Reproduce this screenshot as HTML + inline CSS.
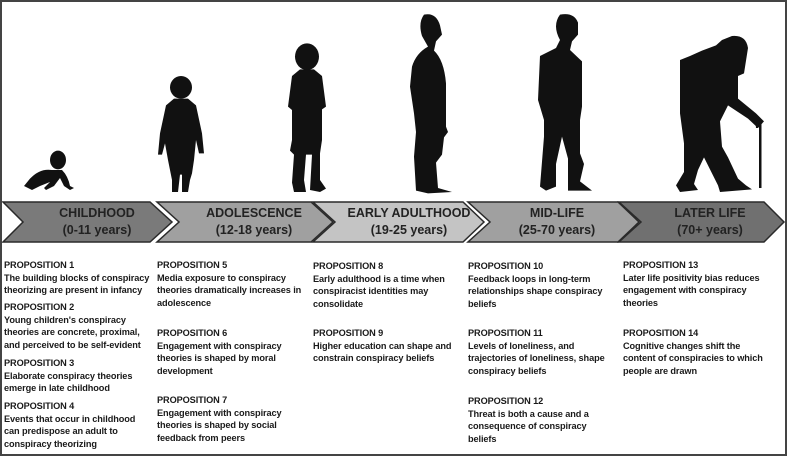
<!DOCTYPE html>
<html><head><meta charset="utf-8">
<style>
html,body{margin:0;padding:0;background:#fff;}
#w{position:relative;width:787px;height:456px;overflow:hidden;background:#fff;font-family:"Liberation Sans",sans-serif;}
#bd{position:absolute;left:0;top:0;width:783px;height:452px;border:2px solid #444;}
.t{position:absolute;font-size:9.2px;font-weight:bold;color:#1a1a1a;line-height:12.6px;white-space:nowrap;letter-spacing:-0.1px}
.h{position:absolute;font-size:12.5px;font-weight:bold;color:#222;text-align:center;width:150px;line-height:17px}
</style></head><body><div id="w">
<svg width="787" height="456" style="position:absolute;left:0;top:0">
<g fill="#111" transform="scale(1,0.6667)">
<!-- baby -->
<ellipse cx="58" cy="240" rx="8" ry="14"/>
<path d="M30 268 Q40 252 52 255 L62 255 Q68 264 70 279 L74 282 L70 285 L64 279 L60 267 L54 279 L46 285 L44 282 L50 273 L40 279 L32 285 L24 279 Z"/>
<!-- toddler -->
<ellipse cx="181" cy="131" rx="11" ry="17"/>
<path d="M174 148 L188 148 L196 158 L202 200 L204 230 L199 230 L196 210 L194 240 L192 260 L190 270 L188 288 L182 288 L182 262 L180 262 L178 288 L172 288 L172 270 L170 255 L168 240 L165 215 L162 232 L158 232 L160 200 L166 158 Z"/>
<!-- kid -->
<ellipse cx="307" cy="85" rx="12" ry="20"/>
<path d="M300 104 L314 104 L322 114 L326 160 L322 164 L322 210 L320 230 L320 270 L326 283 L320 288 L310 285 L312 232 L306 232 L304 270 L306 288 L294 288 L292 274 L294 232 L290 226 L292 210 L292 165 L288 160 L292 114 Z"/>
<!-- adult 1 -->
<path d="M424 22 Q436 18 440 38 L442 52 L436 62 L434 76 Q444 90 446 125 L446 190 L448 198 L444 206 L442 232 L436 244 L438 282 L452 288 L428 290 L416 286 L414 235 L416 198 L414 170 L410 130 L412 100 Q416 80 428 70 L422 54 Q418 34 424 22 Z"/>
<!-- adult 2 -->
<path d="M560 22 Q574 18 578 34 L578 52 L572 62 L570 75 L582 92 L582 160 L580 180 L580 230 L584 246 L580 272 L592 286 L568 286 L568 238 L562 205 L556 246 L556 280 L546 286 L540 280 L544 205 L544 180 L538 150 L540 84 Q548 78 556 72 L560 60 Q552 38 560 22 Z"/>
<!-- old -->
<path d="M732 54 Q746 52 748 72 L744 110 L738 114 L738 148 L756 170 L764 182 L758 192 L748 178 L728 158 L720 182 L722 220 L728 236 L738 268 L746 278 L752 284 L720 288 L718 278 L704 236 L698 255 L694 276 L698 285 L680 288 L676 278 L684 258 L684 215 L680 170 L680 90 L690 84 L702 76 L716 68 L722 60 Z"/>
<rect x="759" y="180" width="2.5" height="102"/>
<path d="M756 192 Q755 180 762 180 L761 184 Q758 185 758 192 Z"/>
</g>
<g stroke="#2a2a2a" stroke-width="1.5">
<polygon points="3,202 150,202 172,222 150,242 3,242 23,222" fill="#7a7a7a"/>
<polygon points="157,202 311,202 333,222 311,242 157,242 179,222" fill="#a0a0a0"/>
<polygon points="313,202 463,202 484,222 463,242 313,242 335,222" fill="#c4c4c4"/>
<polygon points="468,202 618,202 639,222 618,242 468,242 490,222" fill="#a0a0a0"/>
<polygon points="619,202 764,202 784,222 764,242 619,242 641,222" fill="#707070"/>
</g>
</svg>
<div id="bd"></div>
<div class="h" style="left:22px;top:205px">CHILDHOOD<br>(0-11 years)</div>
<div class="h" style="left:179px;top:205px">ADOLESCENCE<br>(12-18 years)</div>
<div class="h" style="left:334px;top:205px">EARLY ADULTHOOD<br>(19-25 years)</div>
<div class="h" style="left:482px;top:205px">MID-LIFE<br>(25-70 years)</div>
<div class="h" style="left:635px;top:205px">LATER LIFE<br>(70+ years)</div>

<div class="t" style="left:4px;top:259px">PROPOSITION 1<br>The building blocks of conspiracy<br>theorizing are present in infancy</div>
<div class="t" style="left:4px;top:301px">PROPOSITION 2<br>Young children's conspiracy<br>theories are concrete, proximal,<br>and perceived to be self-evident</div>
<div class="t" style="left:4px;top:357px">PROPOSITION 3<br>Elaborate conspiracy theories<br>emerge in late childhood</div>
<div class="t" style="left:4px;top:400px">PROPOSITION 4<br>Events that occur in childhood<br>can predispose an adult to<br>conspiracy theorizing</div>

<div class="t" style="left:157px;top:259px">PROPOSITION 5<br>Media exposure to conspiracy<br>theories dramatically increases in<br>adolescence</div>
<div class="t" style="left:157px;top:327px">PROPOSITION 6<br>Engagement with conspiracy<br>theories is shaped by moral<br>development</div>
<div class="t" style="left:157px;top:394px">PROPOSITION 7<br>Engagement with conspiracy<br>theories is shaped by social<br>feedback from peers</div>

<div class="t" style="left:313px;top:260px">PROPOSITION 8<br>Early adulthood is a time when<br>conspiracist identities may<br>consolidate</div>
<div class="t" style="left:313px;top:327px">PROPOSITION 9<br>Higher education can shape and<br>constrain conspiracy beliefs</div>

<div class="t" style="left:468px;top:260px">PROPOSITION 10<br>Feedback loops in long-term<br>relationships shape conspiracy<br>beliefs</div>
<div class="t" style="left:468px;top:327px">PROPOSITION 11<br>Levels of loneliness, and<br>trajectories of loneliness, shape<br>conspiracy beliefs</div>
<div class="t" style="left:468px;top:395px">PROPOSITION 12<br>Threat is both a cause and a<br>consequence of conspiracy<br>beliefs</div>

<div class="t" style="left:623px;top:259px">PROPOSITION 13<br>Later life positivity bias reduces<br>engagement with conspiracy<br>theories</div>
<div class="t" style="left:623px;top:327px">PROPOSITION 14<br>Cognitive changes shift the<br>content of conspiracies to which<br>people are drawn</div>
</div></body></html>
